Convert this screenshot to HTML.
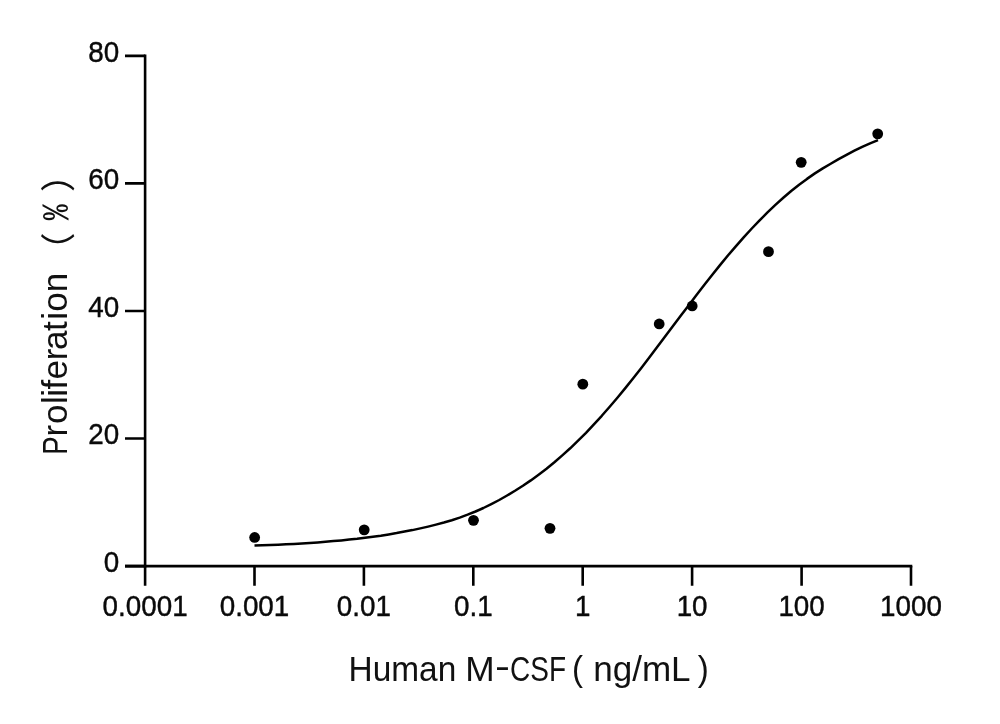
<!DOCTYPE html>
<html lang="en">
<head>
<meta charset="utf-8">
<title>Human M-CSF proliferation curve</title>
<style>
html,body{margin:0;padding:0;background:#fff;}
body{width:1000px;height:724px;overflow:hidden;}
svg{display:block;}
.tick text{font-family:"Liberation Sans",sans-serif;font-size:27.8px;fill:#0a0a0a;stroke:#0a0a0a;stroke-width:0.4px;}
.ttl{font-family:"Liberation Sans","Noto Sans CJK SC",sans-serif;fill:#111;}
.cjk{font-family:"Noto Sans CJK SC","WenQuanYi Zen Hei",sans-serif;font-weight:400;}
.pct{font-family:"IPAGothic","Noto Sans CJK SC","Liberation Sans",sans-serif;}
</style>
</head>
<body>
<svg width="1000" height="724" viewBox="0 0 1000 724">
<rect width="1000" height="724" fill="#fff"/>
<g fill="none" stroke="#000" stroke-width="2.6" stroke-linecap="butt">
<path d="M145.1,54.6V567.4"/>
<path d="M125,566.1H912.3"/>
<path d="M145.1,566.1V585.8M254.5,566.1V585.8M363.9,566.1V585.8M473.3,566.1V585.8M582.7,566.1V585.8M692.1,566.1V585.8M801.6,566.1V585.8M911.0,566.1V585.8"/>
<path d="M125,566.1H145.1M125,438.5H145.1M125,311.0H145.1M125,183.4H145.1M125,55.9H145.1"/>
</g>
<path d="M254.5,545.6 L262.4,545.3 L270.3,545.0 L278.2,544.7 L286.1,544.3 L294.0,543.9 L301.9,543.4 L309.8,542.9 L317.7,542.4 L325.5,541.8 L333.4,541.1 L341.3,540.4 L349.2,539.6 L357.1,538.8 L365.0,537.8 L372.9,536.8 L380.8,535.7 L388.7,534.4 L396.6,533.1 L404.5,531.6 L412.4,530.1 L420.3,528.4 L428.1,526.6 L436.0,524.6 L443.9,522.5 L451.8,520.2 L459.7,517.6 L467.6,514.7 L475.5,511.5 L483.4,508.0 L491.3,504.1 L499.2,500.0 L507.1,495.5 L515.0,490.8 L522.9,485.8 L530.8,480.4 L538.6,474.7 L546.5,468.7 L554.4,462.2 L562.3,455.4 L570.2,448.3 L578.1,440.7 L586.0,432.8 L593.9,424.4 L601.8,415.8 L609.7,406.8 L617.6,397.5 L625.5,387.9 L633.4,378.0 L641.3,367.9 L649.1,357.7 L657.0,347.3 L664.9,336.8 L672.8,326.3 L680.7,315.8 L688.6,305.4 L696.5,295.0 L704.4,284.8 L712.3,274.7 L720.2,264.9 L728.1,255.3 L736.0,246.1 L743.9,237.1 L751.8,228.5 L759.6,220.3 L767.5,212.4 L775.4,204.9 L783.3,197.8 L791.2,191.0 L799.1,184.7 L807.0,178.9 L814.9,173.4 L822.8,168.4 L830.7,163.7 L838.6,159.1 L846.5,154.8 L854.4,150.7 L862.2,146.8 L870.1,143.3 L878.0,140.1" fill="none" stroke="#000" stroke-width="2.5" stroke-linejoin="round"/>
<g fill="#000">
<circle cx="254.65" cy="537.45" r="5.4"/>
<circle cx="364.2" cy="529.85" r="5.4"/>
<circle cx="473.5" cy="520.35" r="5.4"/>
<circle cx="550" cy="528.35" r="5.4"/>
<circle cx="582.8" cy="384.15" r="5.4"/>
<circle cx="659.2" cy="323.95" r="5.4"/>
<circle cx="692.2" cy="305.95" r="5.4"/>
<circle cx="768.5" cy="251.65" r="5.4"/>
<circle cx="801.2" cy="162.35" r="5.4"/>
<circle cx="877.7" cy="133.85" r="5.4"/>
</g>
<g class="tick">
<text transform="translate(145.1,616.0) scale(1,1.05)" text-anchor="middle">0.0001</text>
<text transform="translate(254.5,616.0) scale(1,1.05)" text-anchor="middle">0.001</text>
<text transform="translate(363.9,616.0) scale(1,1.05)" text-anchor="middle">0.01</text>
<text transform="translate(473.3,616.0) scale(1,1.05)" text-anchor="middle">0.1</text>
<text transform="translate(582.7,616.0) scale(1,1.05)" text-anchor="middle">1</text>
<text transform="translate(692.1,616.0) scale(1,1.05)" text-anchor="middle">10</text>
<text transform="translate(801.6,616.0) scale(1,1.05)" text-anchor="middle">100</text>
<text transform="translate(911.0,616.0) scale(1,1.05)" text-anchor="middle">1000</text>
<text transform="translate(119.2,571.9) scale(1,1.05)" text-anchor="end">0</text>
<text transform="translate(119.2,444.3) scale(1,1.05)" text-anchor="end">20</text>
<text transform="translate(119.2,317.3) scale(1,1.05)" text-anchor="end">40</text>
<text transform="translate(119.2,189.4) scale(1,1.05)" text-anchor="end">60</text>
<text transform="translate(119.2,61.9) scale(1,1.05)" text-anchor="end">80</text>
</g>
<text class="ttl" y="680.5" font-size="34.8"><tspan x="348.6" textLength="107.7" lengthAdjust="spacingAndGlyphs">Human</tspan> <tspan x="465.15" textLength="29.4" lengthAdjust="spacingAndGlyphs">M</tspan><tspan x="495.1" y="677.6" textLength="14.95" lengthAdjust="spacingAndGlyphs">-</tspan><tspan x="510" y="680.5" textLength="56" lengthAdjust="spacingAndGlyphs">CSF</tspan> <tspan x="572" textLength="11" lengthAdjust="spacingAndGlyphs">(</tspan> <tspan x="593.2" textLength="96.1" lengthAdjust="spacingAndGlyphs">ng/mL</tspan> <tspan x="697.7" textLength="11" lengthAdjust="spacingAndGlyphs">)</tspan></text>
<text class="ttl" transform="translate(67.1,454.8) rotate(-90)" font-size="35.1"><tspan x="0" textLength="18.4" lengthAdjust="spacingAndGlyphs">P</tspan><tspan x="18.35 30.69 50.75 58.05 65.31 75.23 94.45 104.71 123.93 134.95 143.04 162.67">roliferation</tspan> <tspan class="cjk" x="187.3" y="4" font-size="35">（</tspan><tspan class="pct" x="233.6" y="-0.5" font-size="28.5" textLength="18" lengthAdjust="spacingAndGlyphs">%</tspan><tspan class="cjk" x="262.8" y="4" font-size="35">）</tspan></text>
</svg>
</body>
</html>
